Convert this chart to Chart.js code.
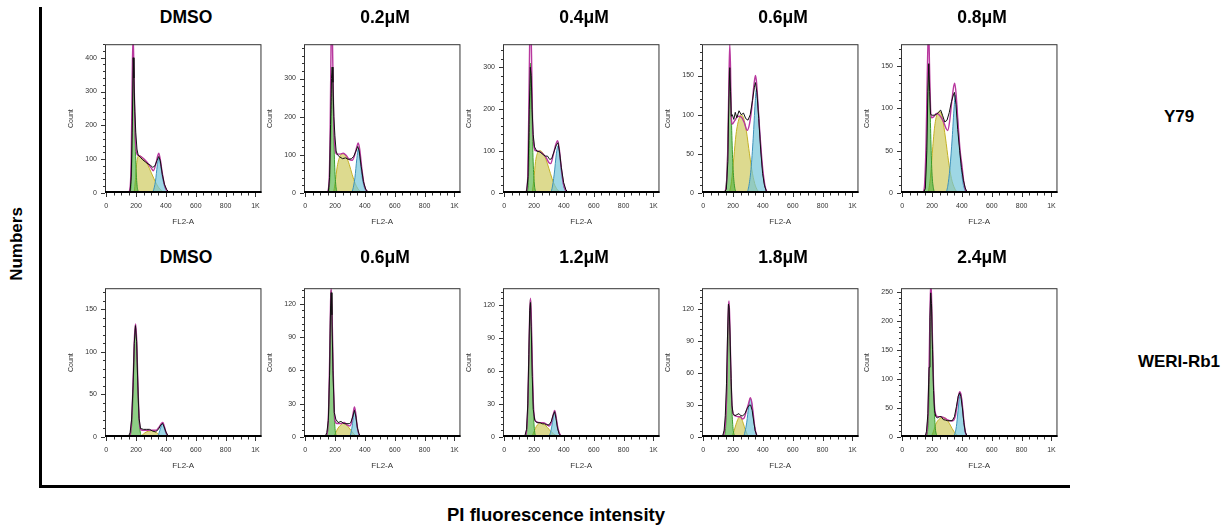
<!DOCTYPE html>
<html>
<head>
<meta charset="utf-8">
<script src="https://cdn.jsdelivr.net/npm/chart.js@4.4.0/dist/chart.umd.min.js"></script>
<style>
  body { margin: 0; background: #fff; }
  #wrap { position: relative; width: 1230px; height: 526px; overflow: hidden; font-family: "Liberation Sans", Arial, sans-serif; }
  #wrap canvas { position: absolute; }
  .lbl { position: absolute; font-weight: bold; color: #000; white-space: nowrap; transform: translate(-50%, -50%); }
  .bar { position: absolute; background: #000; }
</style>
</head>
<body>
<div id="wrap">
  <div class="bar" style="left:39px; top:7px; width:3px; height:481px;"></div>
  <div class="bar" style="left:39px; top:485px; width:1031px; height:3px;"></div>
  <div class="lbl" style="left:17px; top:244px; font-size:17px; transform:translate(-50%,-50%) rotate(-90deg);">Numbers</div>
  <div class="lbl" style="left:556px; top:515px; font-size:18.5px;">PI fluorescence intensity</div>
</div>
<script>
// --- etiquetas ---
const rowTitles = [
    ['DMSO', '0.2μM', '0.4μM', '0.6μM', '0.8μM'],
    ['DMSO', '0.6μM', '1.2μM', '1.8μM', '2.4μM']
];
const cellLines = ['Y79', 'WERI-Rb1'];

// --- ejes Count de cada panel ---
const yMax  = [[440, 390, 355, 190, 176], [175, 134, 135, 140, 256]];
const yStep = [[100, 100, 100, 50, 50], [50, 30, 30, 30, 50]];

// --- Y79 DMSO ---
const y79_dmso_g1 = [[150,0],[162,5],[170,60],[176,200],[182,395],[188,300],[195,140],[203,45],[212,8],[225,0]];
const y79_dmso_s = [[188,0],[196,40],[205,90],[218,110],[235,108],[260,96],[280,82],[300,62],[320,42],[340,24],[360,11],[380,4],[400,0]];
const y79_dmso_g2 = [[-10,0],[300,0],[315,6],[330,35],[342,80],[352,103],[362,88],[376,48],[392,18],[408,5],[428,0],[1040,0]];
const y79_dmso_fit = [[148,0],[160,15],[168,110],[174,330],[180,470],[186,360],[193,190],[200,130],[210,113],[225,110],[250,102],[275,90],[300,75],[316,66],[332,85],[344,108],[352,118],[362,100],[376,58],[392,22],[408,6],[428,0]];
const y79_dmso_hist = [[-10,0],[150,0],[160,3],[168,50],[175,210],[181,400],[186,340],[192,240],[198,180],[206,130],[214,112],[228,106],[245,98],[262,92],[280,86],[296,82],[312,76],[326,80],[340,96],[352,108],[362,96],[376,55],[390,26],[405,10],[420,3],[438,0],[1040,0]];

// --- Y79 0.2μM ---
const y79_02_g1 = [[150,0],[160,8],[167,60],[174,200],[181,330],[188,230],[195,100],[203,30],[214,3],[228,0]];
const y79_02_s = [[190,0],[200,25],[215,70],[235,98],[255,103],[275,95],[295,75],[315,48],[335,25],[355,10],[375,3],[390,0]];
const y79_02_g2 = [[-10,0],[300,0],[318,8],[333,40],[346,90],[356,115],[366,92],[380,45],[396,15],[413,4],[430,0],[1040,0]];
const y79_02_fit = [[148,0],[160,30],[167,160],[173,380],[179,460],[185,340],[192,175],[200,115],[212,102],[235,102],[255,104],[275,98],[295,88],[315,86],[332,100],[345,120],[355,131],[365,115],[380,62],[395,22],[410,6],[430,0]];
const y79_02_hist = [[-10,0],[145,0],[155,3],[163,40],[170,180],[176,300],[181,330],[186,290],[192,200],[199,150],[207,110],[216,100],[230,95],[250,90],[270,92],[290,88],[310,90],[325,96],[340,110],[352,122],[362,110],[375,70],[390,30],[405,10],[420,3],[435,0],[1040,0]];

// --- Y79 0.4μM ---
const y79_04_g1 = [[148,0],[158,8],[165,60],[172,200],[178,310],[184,240],[191,110],[199,35],[210,5],[225,0]];
const y79_04_s = [[188,0],[198,30],[210,75],[225,97],[240,101],[260,95],[280,80],[300,58],[320,35],[340,17],[360,6],[380,0]];
const y79_04_g2 = [[-10,0],[305,0],[320,10],[335,45],[350,95],[360,112],[370,95],[383,50],[398,17],[413,4],[430,0],[1040,0]];
const y79_04_fit = [[146,0],[158,40],[165,200],[171,370],[177,420],[183,330],[190,170],[199,112],[210,101],[230,100],[255,95],[280,85],[300,72],[312,70],[328,90],[345,115],[358,125],[368,108],[382,62],[397,22],[412,6],[430,0]];
const y79_04_hist = [[-10,0],[140,0],[150,3],[160,40],[168,200],[175,300],[181,280],[187,200],[194,140],[203,110],[218,100],[240,98],[260,92],[275,88],[290,88],[305,80],[318,82],[335,100],[350,115],[360,120],[370,100],[383,60],[398,25],[413,8],[430,0],[1040,0]];

// --- Y79 0.6μM ---
const y79_06_g1 = [[140,0],[150,5],[160,30],[168,90],[174,150],[178,158],[184,130],[191,80],[199,35],[209,10],[222,0]];
const y79_06_s = [[175,0],[190,15],[205,45],[220,75],[240,95],[255,100],[270,96],[290,78],[310,50],[330,25],[350,9],[370,2],[385,0]];
const y79_06_g2 = [[-10,0],[290,0],[305,8],[320,30],[335,70],[348,115],[356,132],[365,118],[378,80],[392,40],[407,15],[422,3],[435,0],[1040,0]];
const y79_06_fit = [[140,0],[155,10],[165,60],[172,140],[178,190],[183,160],[188,100],[195,88],[210,92],[233,98],[255,97],[275,90],[295,80],[310,88],[325,108],[340,138],[350,150],[358,140],[368,110],[380,75],[392,45],[402,25],[415,8],[430,0]];
const y79_06_hist = [[-10,0],[140,0],[155,5],[165,40],[172,120],[178,160],[183,130],[188,98],[195,100],[205,94],[215,103],[225,96],[240,105],[255,100],[270,102],[285,95],[300,93],[315,100],[330,118],[343,135],[350,141],[360,128],[372,95],[385,55],[398,25],[410,10],[422,3],[435,0],[1040,0]];

// --- Y79 0.8μM ---
const y79_08_g1 = [[140,0],[150,5],[160,35],[168,95],[174,140],[178,152],[184,125],[191,70],[199,25],[210,5],[222,0]];
const y79_08_s = [[175,0],[190,20],[205,55],[220,82],[240,95],[255,96],[270,88],[290,65],[310,38],[330,17],[350,6],[370,1],[385,0]];
const y79_08_g2 = [[-10,0],[290,0],[305,8],[320,30],[335,65],[348,102],[356,116],[366,100],[378,70],[392,35],[407,12],[422,3],[435,0],[1040,0]];
const y79_08_fit = [[140,0],[150,10],[160,60],[168,140],[174,185],[178,190],[183,150],[190,100],[196,89],[210,90],[230,94],[250,92],[275,85],[295,76],[305,74],[318,85],[332,108],[345,126],[352,130],[362,115],[375,80],[388,50],[400,33],[412,14],[425,3],[438,0]];
const y79_08_hist = [[-10,0],[140,0],[155,5],[165,50],[172,120],[178,153],[184,120],[190,93],[200,92],[215,92],[230,93],[245,96],[258,98],[270,92],[285,84],[300,86],[315,95],[330,108],[343,116],[350,119],[360,105],[372,75],[385,50],[397,30],[410,15],[422,6],[435,1],[445,0],[1040,0]];

// --- WERI-Rb1 DMSO ---
const weri_dmso_g1 = [[155,0],[165,5],[175,25],[183,70],[190,115],[197,128],[204,110],[211,65],[219,25],[228,6],[240,0]];
const weri_dmso_s = [[225,0],[240,2],[260,5],[285,7],[305,7.5],[325,6.5],[345,4],[365,1.5],[385,0]];
const weri_dmso_g2 = [[-10,0],[335,0],[350,3],[362,9],[372,14],[380,15],[388,11],[398,5],[410,1],[420,0],[1040,0]];
const weri_dmso_fit = [[150,0],[162,4],[172,25],[182,75],[190,120],[197,133],[204,115],[212,65],[220,25],[228,10],[240,8],[260,8],[285,8],[310,8],[335,8],[355,12],[370,16],[380,17],[390,12],[402,5],[415,1],[430,0]];
const weri_dmso_hist = [[-10,0],[140,0],[150,1],[160,5],[170,20],[180,60],[188,110],[196,131],[204,112],[212,60],[220,22],[230,10],[250,9],[270,9],[290,9],[310,7],[330,6],[350,9],[365,14],[378,16],[388,12],[400,6],[412,2],[425,1],[440,0],[1040,0]];

// --- WERI-Rb1 0.6μM ---
const weri_06_g1 = [[140,0],[150,5],[158,25],[165,70],[170,115],[174,132],[179,115],[186,65],[193,25],[201,6],[212,0]];
const weri_06_s = [[190,0],[205,4],[220,8],[240,11],[258,12.5],[275,11],[295,8],[315,4.5],[335,1.5],[350,0]];
const weri_06_g2 = [[-10,0],[295,0],[305,3],[315,10],[324,20],[331,25],[338,20],[347,10],[357,3],[368,0],[1040,0]];
const weri_06_fit = [[138,0],[150,6],[158,30],[165,80],[170,122],[174,134],[179,118],[186,70],[193,30],[201,14],[215,12],[240,12],[260,13],[280,11],[300,10],[312,14],[322,22],[330,27],[338,22],[347,11],[357,4],[370,0]];
const weri_06_hist = [[-10,0],[125,0],[135,1],[145,4],[155,15],[163,55],[170,118],[174,130],[179,110],[186,60],[195,22],[205,16],[220,13],[240,14],[260,12],[280,12],[295,12],[305,13],[318,18],[330,24],[340,18],[350,8],[360,3],[372,0],[1040,0]];

// --- WERI-Rb1 1.2μM ---
const weri_12_g1 = [[140,0],[150,5],[158,25],[165,65],[171,108],[176,125],[181,108],[188,62],[195,25],[203,6],[215,0]];
const weri_12_s = [[185,0],[200,5],[215,9.5],[230,12],[245,12.5],[260,12],[280,10],[300,7],[320,4],[340,2],[360,0.5],[375,0]];
const weri_12_g2 = [[-10,0],[295,0],[308,3],[318,9],[328,17],[338,22.5],[347,18],[357,9],[368,3],[380,1],[390,0],[1040,0]];
const weri_12_fit = [[140,0],[150,6],[158,28],[165,72],[171,113],[176,126],[181,112],[188,68],[195,32],[203,17],[215,14],[240,13],[260,13],[280,12],[300,10],[315,13],[328,20],[338,24],[347,19],[357,10],[368,4],[380,1],[392,0]];
const weri_12_hist = [[-10,0],[130,0],[140,2],[150,7],[158,30],[165,75],[171,115],[176,122],[181,100],[188,55],[195,25],[205,15],[220,13],[240,13],[255,12],[270,12],[285,11],[300,11],[315,14],[328,20],[338,23],[347,17],[357,8],[368,3],[380,1],[392,0],[1040,0]];

// --- WERI-Rb1 1.8μM ---
const weri_18_g1 = [[138,0],[148,5],[155,25],[162,65],[167,105],[171,126],[176,110],[183,68],[191,30],[200,8],[212,0]];
const weri_18_s = [[190,0],[205,5],[220,12],[235,17.5],[245,19],[255,18],[268,13],[282,7],[295,2.5],[308,0]];
const weri_18_g2 = [[-10,0],[268,0],[280,5],[292,14],[304,28],[314,36],[322,34],[332,24],[342,12],[352,4],[364,0],[1040,0]];
const weri_18_fit = [[130,0],[140,4],[150,15],[158,45],[164,95],[169,122],[173,128],[178,110],[185,65],[192,32],[200,22],[215,20],[235,19],[250,19],[262,17],[275,18],[290,25],[305,32],[315,37],[325,33],[335,22],[345,10],[355,3],[368,0]];
const weri_18_hist = [[-10,0],[120,0],[130,1],[140,6],[148,20],[156,50],[163,95],[169,125],[174,122],[180,95],[187,55],[193,30],[200,22],[212,20],[225,21],[240,22],[252,20],[265,20],[280,22],[295,27],[308,30],[318,30],[328,25],[338,15],[348,6],[358,2],[370,0],[1040,0]];

// --- WERI-Rb1 2.4μM ---
const weri_24_g1 = [[160,0],[170,10],[178,50],[185,140],[190,215],[194,242],[199,210],[206,130],[213,60],[221,18],[232,3],[245,0]];
const weri_24_s = [[195,0],[210,10],[225,22],[245,30],[265,33],[285,33],[305,28],[325,19],[345,10],[365,4],[385,0.5],[395,0]];
const weri_24_g2 = [[-10,0],[340,0],[352,5],[363,18],[374,45],[384,70],[390,75],[397,68],[406,45],[415,20],[425,6],[437,0],[1040,0]];
const weri_24_fit = [[155,0],[165,8],[173,40],[180,120],[186,210],[191,265],[196,245],[203,165],[210,90],[218,48],[226,38],[240,35],[260,35],[280,33],[300,30],[320,28],[340,28],[355,35],[368,55],[378,72],[386,78],[393,74],[403,55],[413,28],[423,9],[435,1],[445,0]];
const weri_24_hist = [[-10,0],[145,0],[155,2],[163,10],[172,40],[180,120],[186,205],[191,248],[196,230],[203,150],[210,80],[217,45],[225,35],[235,33],[250,35],[262,35],[275,30],[290,29],[305,28],[320,28],[335,28],[350,35],[363,52],[375,70],[385,76],[393,70],[403,50],[413,25],[423,8],[435,2],[447,0],[1040,0]];

const panelData = [
    [
        [y79_dmso_hist, y79_dmso_fit, y79_dmso_g1, y79_dmso_s, y79_dmso_g2],
        [y79_02_hist, y79_02_fit, y79_02_g1, y79_02_s, y79_02_g2],
        [y79_04_hist, y79_04_fit, y79_04_g1, y79_04_s, y79_04_g2],
        [y79_06_hist, y79_06_fit, y79_06_g1, y79_06_s, y79_06_g2],
        [y79_08_hist, y79_08_fit, y79_08_g1, y79_08_s, y79_08_g2]
    ],
    [
        [weri_dmso_hist, weri_dmso_fit, weri_dmso_g1, weri_dmso_s, weri_dmso_g2],
        [weri_06_hist, weri_06_fit, weri_06_g1, weri_06_s, weri_06_g2],
        [weri_12_hist, weri_12_fit, weri_12_g1, weri_12_s, weri_12_g2],
        [weri_18_hist, weri_18_fit, weri_18_g1, weri_18_s, weri_18_g2],
        [weri_24_hist, weri_24_fit, weri_24_g1, weri_24_s, weri_24_g2]
    ]
];

// --- layout ---
const boxLeft = [105, 304, 503, 702, 901];
const boxTop = [36, 280];
const boxW = 158, boxH = 157;
const padL = 42, padT = 4, padR = 6, axisH = 36;
const titleY = [16.5, 256.5];
const rowLabelY = [117, 362];
const FONT = '"Liberation Sans", Arial, sans-serif';

const wrap = document.getElementById('wrap');
const toXY = arr => arr.map(p => ({ x: p[0], y: p[1] }));

const marcoPlugin = {
    id: 'marco',
    afterDatasetsDraw(chart) {
        const { ctx, chartArea: a, scales } = chart;
        ctx.save();
        ctx.strokeStyle = '#333';
        ctx.lineWidth = 1;
        ctx.strokeRect(a.left + 0.5, a.top + 0.5, a.right - a.left - 1, a.bottom - a.top - 1);
        // ticks
        ctx.beginPath();
        scales.y.ticks.forEach(t => {
            const py = Math.round(scales.y.getPixelForValue(t.value)) + 0.5;
            const len = t.major ? 4 : 2;
            ctx.moveTo(a.left - len, py);
            ctx.lineTo(a.left, py);
        });
        scales.x.ticks.forEach(t => {
            const px = Math.round(scales.x.getPixelForValue(t.value)) + 0.5;
            const len = t.major ? 4 : 2.5;
            ctx.moveTo(px, a.bottom);
            ctx.lineTo(px, a.bottom + len);
        });
        ctx.stroke();
        // linea base
        ctx.strokeStyle = '#000';
        ctx.lineWidth = 2;
        ctx.beginPath();
        ctx.moveTo(a.left, a.bottom - 1);
        ctx.lineTo(a.right, a.bottom - 1);
        ctx.stroke();
        ctx.restore();
    }
};

function crearPanel(row, col) {
    const [hist, fit, g1, s, g2] = panelData[row][col];
    const max = yMax[row][col];
    const step = yStep[row][col];

    const canvas = document.createElement('canvas');
    canvas.width = padL + boxW + padR;
    canvas.height = padT + boxH + axisH;
    canvas.style.left = (boxLeft[col] - padL) + 'px';
    canvas.style.top = (boxTop[row] - padT) + 'px';
    wrap.appendChild(canvas);

    const comp = (data, fillC, lineC, order) => ({
        data: toXY(data), borderColor: lineC, backgroundColor: fillC, borderWidth: 1,
        fill: 'origin', pointRadius: 0, cubicInterpolationMode: 'monotone', order
    });

    new Chart(canvas, {
        type: 'line',
        data: {
            datasets: [
                { data: toXY(hist), borderColor: '#111', borderWidth: 1, fill: false, pointRadius: 0, tension: 0, order: 1 },
                { data: toXY(fit), borderColor: '#b8389e', borderWidth: 1.4, fill: false, pointRadius: 0, cubicInterpolationMode: 'monotone', order: 2 },
                comp(g1, 'rgba(72,176,58,0.62)', '#3a9a2c', 3),
                comp(g2, 'rgba(112,196,216,0.68)', '#3e92bb', 4),
                comp(s, 'rgba(206,202,96,0.7)', '#c4b226', 5)
            ]
        },
        options: {
            responsive: false,
            animation: false,
            events: [],
            layout: { padding: { top: padT, right: padR, left: 0, bottom: 0 } },
            plugins: { legend: { display: false }, tooltip: { enabled: false } },
            scales: {
                x: {
                    type: 'linear', min: -8, max: 1040,
                    grid: { display: false, drawTicks: false },
                    border: { display: false },
                    afterBuildTicks: sc => {
                        const t = [];
                        for (let v = 0; v <= 1000; v += 50) t.push({ value: v, major: v % 200 === 0 });
                        sc.ticks = t;
                    },
                    afterFit: sc => { sc.height = axisH; },
                    ticks: {
                        autoSkip: false, maxRotation: 0, padding: 9, color: '#333',
                        font: { family: FONT, size: 7 },
                        callback: v => v === 1000 ? '1K' : (v % 200 === 0 ? String(v) : '')
                    },
                    title: { display: true, text: 'FL2-A', color: '#333', font: { family: FONT, size: 8 }, padding: { top: 0, bottom: 2 } }
                },
                y: {
                    min: 0, max: max,
                    grid: { display: false, drawTicks: false },
                    border: { display: false },
                    afterBuildTicks: sc => {
                        const t = [];
                        const minor = step / 5;
                        for (let i = 0; i * minor <= max; i++) t.push({ value: i * minor, major: i % 5 === 0 });
                        sc.ticks = t;
                    },
                    afterFit: sc => { sc.width = padL; },
                    ticks: {
                        autoSkip: false, padding: 8, color: '#333',
                        font: { family: FONT, size: 7 },
                        callback: v => (Math.round(v) % step === 0 ? String(Math.round(v)) : '')
                    },
                    title: { display: true, text: 'Count', color: '#333', font: { family: FONT, size: 7 }, padding: { top: 4, bottom: 0 } }
                }
            }
        },
        plugins: [marcoPlugin]
    });

    const t = document.createElement('div');
    t.className = 'lbl';
    t.style.fontSize = '17.5px';
    t.style.left = (boxLeft[col] + boxW / 2 + 2) + 'px';
    t.style.top = titleY[row] + 'px';
    t.textContent = rowTitles[row][col];
    wrap.appendChild(t);
}

for (let r = 0; r < 2; r++) {
    for (let c = 0; c < 5; c++) crearPanel(r, c);
    const l = document.createElement('div');
    l.className = 'lbl';
    l.style.fontSize = '17px';
    l.style.left = '1179px';
    l.style.top = rowLabelY[r] + 'px';
    l.textContent = cellLines[r];
    wrap.appendChild(l);
}
</script>
</body>
</html>
